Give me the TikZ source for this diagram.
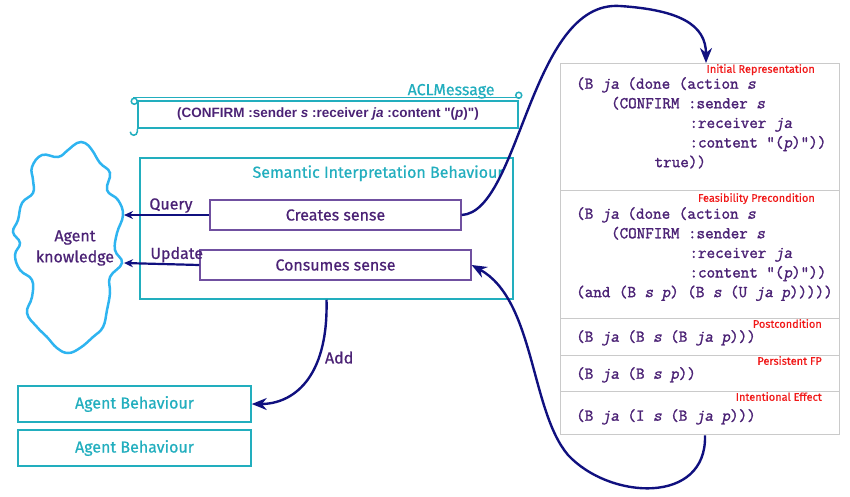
\documentclass[tikz,border=0pt]{standalone}
\usepackage{fontspec}
\setmainfont{Fira Sans}[FakeBold=0.6]
\setmonofont{Latin Modern Mono}[FakeBold=1.6, ItalicFont=Latin Modern Mono, ItalicFeatures={FakeSlant=0.2}]
\newfontfamily\aclfont{Liberation Sans}
\usetikzlibrary{arrows.meta, positioning, calc}
\definecolor{tealc}{HTML}{22AEBE}
\definecolor{purp}{HTML}{4B2275}
\definecolor{boxpurp}{HTML}{7050A0}
\definecolor{navy}{HTML}{10107F}
\definecolor{skyc}{HTML}{2EB4F0}
\definecolor{grayc}{HTML}{CACACA}
\definecolor{redc}{HTML}{F01818}
\newcommand{\pad}[1]{\hspace*{\dimexpr #1em*525/1000\relax}}
\newcommand{\dq}{\char"22\relax}
\begin{document}
\begin{tikzpicture}[x=1pt, y=-1pt,
  tealbox/.style={draw=tealc, line width=1.5pt, text=tealc, font=\fontsize{16}{19}\selectfont},
  sensebox/.style={draw=boxpurp, line width=1.3pt, minimum height=30pt, text=purp, font=\fontsize{16}{19}\selectfont},
  rowbox/.style={draw=grayc, line width=1.3pt, anchor=north west, minimum width=279pt},
  code/.style={anchor=north west, align=left, inner sep=0pt, text=purp, font=\ttfamily\fontsize{16.6}{19.6}\selectfont},
  tag/.style={anchor=north east, inner sep=0pt, text=redc, font=\fontsize{11}{13}\selectfont},
  lbl/.style={inner sep=1pt, text=purp, font=\fontsize{16}{19}\selectfont},
  arr/.style={-{Stealth[length=9pt, width=8pt]}, navy, line width=2.2pt},
  bigarr/.style={-{Stealth[length=15pt, width=12pt]}, navy, line width=2.4pt}
]
\useasboundingbox (0,0) rectangle (850,496);

% ACL message scroll
\node[tealbox, minimum width=380pt, minimum height=27pt, text=purp,
  font=\aclfont\bfseries\fontsize{13.5}{15}\selectfont] (acl) at (328,114.5)
  {(CONFIRM :sender \textit{s} :receiver \textit{ja} :content \dq(\textit{p})\dq)};
\node[text=tealc, anchor=east, inner sep=0pt, font=\fontsize{16}{19}\selectfont] (acllabel)
  at ($(acl.north east)+(-24,-9)$) {ACLMessage};
\draw[tealc, line width=1.5pt] ($(acl.north west)+(-4,-3)$) -- ($(acl.north east)+(0,-3)$);
\draw[tealc, line width=1.5pt] ($(acl.north west)+(-3,1)$) circle[radius=3];
\draw[tealc, line width=1.5pt] ($(acl.north east)+(0,-5)$) circle[radius=3];
\draw[tealc, line width=1.5pt] (acl.south west) -- ++(0,3) arc[start angle=0, end angle=180, radius=3.5];

% semantic interpretation behaviour
\node[tealbox, minimum width=373pt, minimum height=141pt] (sib) at (326.5,228.5) {};
\node[text=tealc, anchor=east, inner sep=0pt, font=\fontsize{16}{19}\selectfont] (sibtitle)
  at ($(sib.north east)+(-10,16)$) {Semantic Interpretation Behaviour};
\node[sensebox, minimum width=251pt] (creates) at (335.5,215) {Creates sense};
\node[sensebox, minimum width=271pt] (consumes) at (335.5,265) {Consumes sense};

% agent knowledge cloud
\draw[skyc, line width=2.5pt] plot[smooth cycle, tension=0.7] coordinates {
  (77,143) (68,150) (58,157) (42,155) (32,167) (33,180) (33,193) (22,203)
  (18,220) (13,232) (20,243) (15,255) (20,270) (32,280) (32,297) (27,313)
  (37,327) (47,337) (57,348) (68,353) (80,348) (93,337) (103,327) (107,310)
  (110,293) (110,277) (122,263) (115,250) (117,233) (123,215) (118,200)
  (107,190) (110,173) (100,163) (92,150) (85,143)};
\node[lbl, align=center, font=\fontsize{16}{21}\selectfont] (know) at (75,248) {Agent\\knowledge};
\coordinate (kq) at (124,215);
\coordinate (ku) at (124,263);

\draw[arr] (creates.west) -- (kq) node[lbl, pos=0.45, above] {Query};
\draw[arr] (consumes.west) -- (ku) node[lbl, pos=0.3, above] {Update};

% agent behaviours
\node[tealbox, minimum width=233pt, minimum height=36pt] (ab1) at (134.5,404) {Agent Behaviour};
\node[tealbox, minimum width=233pt, minimum height=36pt] (ab2) at (134.5,448) {Agent Behaviour};
\draw[bigarr] (sib.south) .. controls +(2,80) and +(40,0) .. (ab1.east)
  node[lbl, pos=0.3, right=4pt] {Add};

% act semantics table
\node[rowbox, minimum height=127pt] (init) at (560,63) {};
\node[rowbox, minimum height=128pt] (feas) at (560,190) {};
\node[rowbox, minimum height=37pt] (post) at (560,318) {};
\node[rowbox, minimum height=36pt] (pers) at (560,355) {};
\node[rowbox, minimum height=43pt] (inten) at (560,391) {};

\node[tag] (inittag) at (815,64) {Initial Representation};
\node[tag] (feastag) at (815,193) {Feasibility Precondition};
\node[tag] (posttag) at (822,319) {Postcondition};
\node[tag] (perstag) at (822,356) {Persistent FP};
\node[tag] (intentag) at (822,392) {Intentional Effect};

\node[code] (initcode) at (576,77) {(B \textit{ja} (done (action \textit{s}\\
  \pad{4}(CONFIRM :sender \textit{s}\\
  \pad{13}:receiver \textit{ja}\\
  \pad{13}:content \dq(\textit{p})\dq))\\
  \pad{9}true))};
\node[code] (feascode) at (576,207) {(B \textit{ja} (done (action \textit{s}\\
  \pad{4}(CONFIRM :sender \textit{s}\\
  \pad{13}:receiver \textit{ja}\\
  \pad{13}:content \dq(\textit{p})\dq))\\
  (and (B \textit{s p}) (B \textit{s} (U \textit{ja p})))))};
\node[code] (postcode) at (576,330) {(B \textit{ja} (B \textit{s} (B \textit{ja p})))};
\node[code] (perscode) at (576,367) {(B \textit{ja} (B \textit{s p}))};
\node[code] (intencode) at (576,409) {(B \textit{ja} (I \textit{s} (B \textit{ja p})))};

% curved connectors
\draw[bigarr] (creates.east) .. controls (520,212) and (530,0) .. (620,6)
  .. controls (680,10) and (706,25) .. ($(init.north west)+(146,0)$);
\draw[bigarr] ($(inten.south west)+(145,0)$) .. controls (707,505) and (610,500) .. (568,455)
  .. controls (530,410) and (535,300) .. (consumes.east);
\end{tikzpicture}
\end{document}
